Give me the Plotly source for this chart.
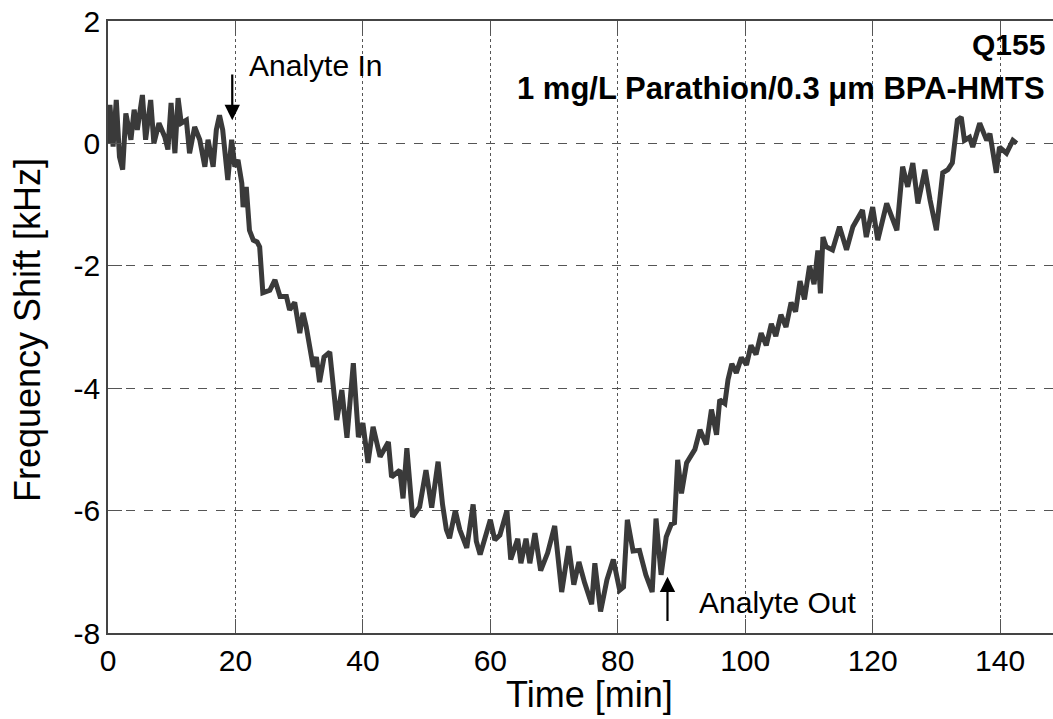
import plotly.graph_objects as go

# Time [min]
time_min = [0.0, 0.3, 0.8, 1.3, 1.8, 2.3, 2.8, 3.6, 4.1, 4.6, 5.4, 5.9, 6.7, 7.2, 8.0, 8.9, 9.4, 9.9,
            10.5, 11.0, 11.5, 12.3, 12.8, 13.6, 14.4, 15.2, 15.7, 16.5, 17.0, 17.5, 18.0, 18.8, 19.4,
            19.9, 20.4, 21.0, 21.2, 21.7, 22.2, 22.8, 23.4, 23.8, 24.3, 25.4, 26.2, 27.0, 28.0, 28.5,
            29.3, 30.1, 30.6, 31.1, 32.2, 32.7, 33.2, 33.9, 34.8, 35.9, 36.7, 37.5, 38.5, 39.3, 40.0,
            40.8, 41.6, 42.7, 44.0, 44.5, 45.8, 46.3, 46.9, 47.8, 48.9, 49.9, 50.8, 51.8, 52.5, 53.1,
            53.6, 54.5, 55.2, 56.3, 57.3, 57.8, 58.4, 59.2, 60.0, 60.7, 61.5, 62.6, 63.2, 64.3, 64.8,
            65.6, 66.2, 67.0, 67.9, 69.0, 70.1, 71.2, 72.3, 73.1, 73.9, 74.8, 75.9, 76.4, 77.3, 78.3,
            79.3, 80.3, 80.9, 81.5, 82.4, 83.4, 84.4, 85.4, 86.0, 86.8, 87.6, 88.4, 88.9, 89.4, 90.0,
            90.8, 92.1, 92.9, 93.9, 94.7, 95.5, 96.0, 96.8, 97.3, 97.9, 98.6, 99.4, 100.2, 100.9,
            101.7, 102.5, 103.3, 104.1, 104.8, 105.6, 106.4, 107.2, 107.9, 108.6, 109.3, 110.1,
            110.8, 111.4, 111.8, 112.2, 112.7, 113.7, 114.8, 115.9, 116.9, 118.4, 119.0, 120.0,
            120.8, 122.2, 123.8, 124.7, 125.5, 126.3, 127.1, 128.2, 129.0, 130.0, 131.0, 131.8,
            132.5, 133.3, 133.9, 134.4, 135.2, 135.7, 136.8, 137.9, 138.4, 139.4, 139.9, 141.0,
            142.0, 142.6]

# Frequency shift [kHz]
freq_shift = [0.0, 0.63, -0.05, 0.71, -0.22, -0.43, 0.49, 0.06, 0.55, 0.22, 0.79, 0.06, 0.71, 0.0, 0.33,
              0.11, -0.1, 0.66, -0.16, 0.74, 0.33, 0.38, -0.16, 0.27, 0.06, -0.38, 0.06, -0.38, 0.22,
              0.46, 0.22, -0.6, 0.06, -0.38, -0.27, -0.65, -1.04, -0.71, -1.42, -1.58, -1.61, -1.69,
              -2.44, -2.4, -2.23, -2.5, -2.5, -2.72, -2.6, -3.1, -2.77, -2.99, -3.65, -3.49, -3.9,
              -3.49, -3.41, -4.52, -4.03, -4.81, -3.59, -4.8, -4.57, -5.22, -4.63, -5.12, -4.88, -5.45,
              -5.34, -5.8, -4.98, -6.1, -5.94, -5.34, -5.95, -5.2, -5.9, -6.31, -6.45, -6.0, -6.31,
              -6.61, -5.9, -6.5, -6.72, -6.4, -6.15, -6.48, -6.4, -6.0, -6.8, -6.46, -6.86, -6.46,
              -6.86, -6.37, -6.98, -6.69, -6.25, -7.33, -6.58, -7.21, -6.84, -7.18, -7.53, -6.86,
              -7.65, -7.13, -6.8, -7.3, -7.25, -6.15, -6.66, -6.65, -7.05, -7.33, -6.13, -7.05, -6.43,
              -6.22, -6.2, -5.17, -5.72, -5.22, -5.0, -4.68, -4.92, -4.35, -4.76, -4.19, -4.25, -3.86,
              -3.6, -3.75, -3.5, -3.62, -3.3, -3.45, -3.1, -3.3, -2.95, -3.15, -2.8, -3.0, -2.6, -2.75,
              -2.25, -2.55, -2.0, -2.3, -1.75, -2.45, -1.53, -1.69, -1.74, -1.36, -1.74, -1.36, -1.09,
              -1.53, -1.04, -1.58, -0.98, -1.42, -0.38, -0.71, -0.32, -0.98, -0.43, -0.92, -1.42,
              -0.48, -0.43, -0.32, 0.38, 0.43, 0.05, 0.1, -0.06, 0.33, 0.05, 0.16, -0.48, -0.06,
              -0.16, 0.05, 0.0]

x_ticks = [0, 20, 40, 60, 80, 100, 120, 140]
y_ticks = [-8, -6, -4, -2, 0, 2]
y_tick_labels = ["-8", "-6", "-4", "-2", "0", "2"]

FONT = "Liberation Sans, Arial, sans-serif"

fig = go.Figure()
fig.add_trace(go.Scatter(x=time_min, y=freq_shift, mode="lines",
                         line=dict(color="#3a3a3a", width=5), showlegend=False))

axis_common = dict(showline=True, linecolor="#444444", linewidth=1.6,
                   ticks="inside", ticklen=14, tickwidth=1.4, tickcolor="#555555",
                   showgrid=True, gridcolor="#555555", gridwidth=1.2,
                   zeroline=False,
                   tickfont=dict(family=FONT, size=30, color="black"))

fig.update_xaxes(range=[0, 148.3], tickvals=x_ticks, mirror="ticks", griddash="dot", **axis_common)
fig.update_yaxes(range=[-8, 2], tickvals=y_ticks, ticktext=y_tick_labels, mirror=False,
                 griddash="dash", **axis_common)

annotations = [
    dict(text="Time [min]", xref="paper", yref="paper", x=0.51, y=-0.1,
         showarrow=False, font=dict(family=FONT, size=36, color="black"),
         xanchor="center", yanchor="middle"),
    dict(text="Frequency Shift [kHz]", xref="paper", yref="paper", x=-0.0857, y=0.495,
         showarrow=False, textangle=-90, font=dict(family=FONT, size=36, color="black"),
         xanchor="center", yanchor="middle"),
    dict(text="<b>Q155</b>", xref="paper", yref="paper", x=0.9937, y=0.961,
         showarrow=False, font=dict(family=FONT, size=30, color="black"),
         xanchor="right", yanchor="middle"),
    dict(text="<b>1 mg/L Parathion/0.3 \u03bcm BPA-HMTS</b>", xref="paper", yref="paper",
         x=0.9937, y=0.89, showarrow=False, font=dict(family=FONT, size=31, color="black"),
         xanchor="right", yanchor="middle"),
    dict(text="Analyte In", xref="x", yref="y", x=21.8, y=1.28, showarrow=False,
         font=dict(family=FONT, size=30, color="black"), xanchor="left", yanchor="middle"),
    dict(text="", xref="x", yref="y", x=19.5, y=0.38, axref="x", ayref="y", ax=19.5, ay=1.15,
         showarrow=True, arrowhead=2, arrowsize=1.4, arrowwidth=2.2, arrowcolor="black"),
    dict(text="Analyte Out", xref="x", yref="y", x=92.5, y=-7.5, showarrow=False,
         font=dict(family=FONT, size=30, color="black"), xanchor="left", yanchor="middle"),
    dict(text="", xref="x", yref="y", x=87.8, y=-7.08, axref="x", ayref="y", ax=87.8, ay=-7.83,
         showarrow=True, arrowhead=2, arrowsize=1.4, arrowwidth=2.2, arrowcolor="black"),
]

fig.update_layout(width=1053, height=719, margin=dict(l=108, r=0, t=21, b=86),
                  paper_bgcolor="white", plot_bgcolor="white",
                  annotations=annotations, font=dict(family=FONT))

fig.write_html("out.html", config={"displayModeBar": False},
               post_script="document.body.style.margin='0';document.body.style.overflow='hidden';")
